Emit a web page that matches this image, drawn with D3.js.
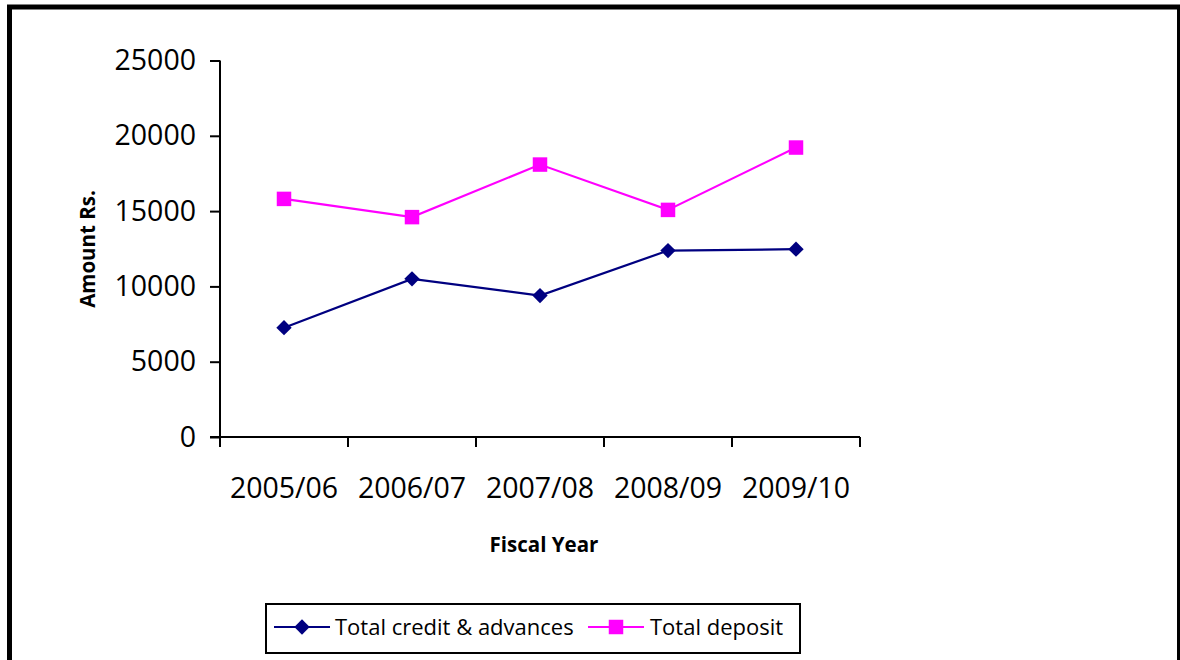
<!DOCTYPE html>
<html>
<head>
<meta charset="utf-8">
<script src="https://cdn.jsdelivr.net/npm/d3@7"></script>
<style>
  html, body { margin: 0; padding: 0; background: #fff; }
  svg { display: block; }
</style>
</head>
<body>
<svg id="chart" width="1180" height="660"></svg>
<script>
// Fiscal years and amounts (Rs.)
const years = ["2005/06", "2006/07", "2007/08", "2008/09", "2009/10"];
const creditAdvances = [7260, 10500, 9390, 12380, 12470];
const totalDeposit = [15810, 14600, 18090, 15080, 19220];
const yTicks = [0, 5000, 10000, 15000, 20000, 25000];

const seriesNames = ["Total credit & advances", "Total deposit"];
const seriesColors = ["#000080", "#ff00ff"];

const svg = d3.select("#chart");
const font = "'Open Sans', 'Noto Sans', sans-serif";

// Outer chart frame
svg.append("line").attr("x1", 7).attr("x2", 1180).attr("y1", 7).attr("y2", 7)
  .attr("stroke", "#000").attr("stroke-width", 5);
svg.append("line").attr("x1", 9.5).attr("x2", 9.5).attr("y1", 5).attr("y2", 660)
  .attr("stroke", "#000").attr("stroke-width", 5);
svg.append("line").attr("x1", 1178.5).attr("x2", 1178.5).attr("y1", 5).attr("y2", 660)
  .attr("stroke", "#000").attr("stroke-width", 3);

const plot = { left: 220, right: 860, top: 60.5, bottom: 437 };

const x = d3.scaleBand().domain(years).range([plot.left, plot.right]).paddingInner(0).paddingOuter(0);
const y = d3.scaleLinear().domain([0, 25000]).range([plot.bottom, plot.top]);

// Y axis
const yAxis = svg.append("g")
  .attr("transform", `translate(${plot.left},0)`)
  .call(d3.axisLeft(y).tickValues(yTicks).tickSize(10).tickPadding(14).tickFormat(d3.format("d")));
yAxis.select(".domain").attr("stroke", "#000").attr("stroke-width", 2)
  .attr("d", `M0,${plot.top}V${plot.bottom + 10}`);
yAxis.selectAll(".tick line").attr("stroke", "#000").attr("stroke-width", 2);
yAxis.selectAll(".tick text").attr("font-family", font).attr("font-size", 28.5).attr("fill", "#000");

// X axis with ticks on category boundaries
const xAxis = svg.append("g").attr("transform", `translate(0,${plot.bottom})`);
xAxis.append("line").attr("x1", plot.left - 10).attr("x2", plot.right).attr("y1", 0).attr("y2", 0)
  .attr("stroke", "#000").attr("stroke-width", 2);
const boundaries = years.map(d => x(d)).concat([plot.right]);
xAxis.selectAll("line.tick").data(boundaries).join("line")
  .attr("class", "tick")
  .attr("x1", d => d).attr("x2", d => d).attr("y1", 0).attr("y2", 10)
  .attr("stroke", "#000").attr("stroke-width", 2);
xAxis.selectAll("text.lbl").data(years).join("text")
  .attr("class", "lbl")
  .attr("x", d => x(d) + x.bandwidth() / 2).attr("y", 61)
  .attr("text-anchor", "middle")
  .attr("font-family", font).attr("font-size", 28.5).attr("fill", "#000")
  .text(d => d);

// Axis titles
svg.append("text")
  .attr("x", 544).attr("y", 552)
  .attr("text-anchor", "middle")
  .attr("font-family", font).attr("font-weight", "bold").attr("font-size", 20.5)
  .text("Fiscal Year");
svg.append("text")
  .attr("transform", "translate(95,249) rotate(-90)")
  .attr("text-anchor", "middle")
  .attr("font-family", font).attr("font-weight", "bold").attr("font-size", 20.5)
  .text("Amount Rs.");

// Series lines and markers
const cx = d => x(d) + x.bandwidth() / 2;
const line = d3.line().x(d => cx(d.year)).y(d => y(d.value));
const diamond = d3.symbol().type(d3.symbolDiamond2).size(150);
const square = d3.symbol().type(d3.symbolSquare).size(210);

[creditAdvances, totalDeposit].forEach((vals, i) => {
  const data = years.map((yr, j) => ({ year: yr, value: vals[j] }));
  svg.append("path").datum(data)
    .attr("d", line).attr("fill", "none")
    .attr("stroke", seriesColors[i]).attr("stroke-width", 2.2);
  svg.selectAll(`path.m${i}`).data(data).join("path")
    .attr("class", `m${i}`)
    .attr("transform", d => `translate(${cx(d.year)},${y(d.value)})`)
    .attr("d", i === 0 ? diamond : square)
    .attr("fill", seriesColors[i]);
});

// Legend
const legend = svg.append("g");
legend.append("rect").attr("x", 266).attr("y", 604).attr("width", 534).attr("height", 49)
  .attr("fill", "#fff").attr("stroke", "#000").attr("stroke-width", 2);
const legendItems = [
  { x0: 274, textX: 335 },
  { x0: 588, textX: 650 }
];
legendItems.forEach((it, i) => {
  legend.append("line").attr("x1", it.x0).attr("x2", it.x0 + 56).attr("y1", 627).attr("y2", 627)
    .attr("stroke", seriesColors[i]).attr("stroke-width", 2.2);
  legend.append("path")
    .attr("transform", `translate(${it.x0 + 28},627)`)
    .attr("d", i === 0 ? diamond : square)
    .attr("fill", seriesColors[i]);
  legend.append("text").attr("x", it.textX).attr("y", 635)
    .attr("font-family", font).attr("font-size", 22).attr("fill", "#000")
    .text(seriesNames[i]);
});
</script>
</body>
</html>
